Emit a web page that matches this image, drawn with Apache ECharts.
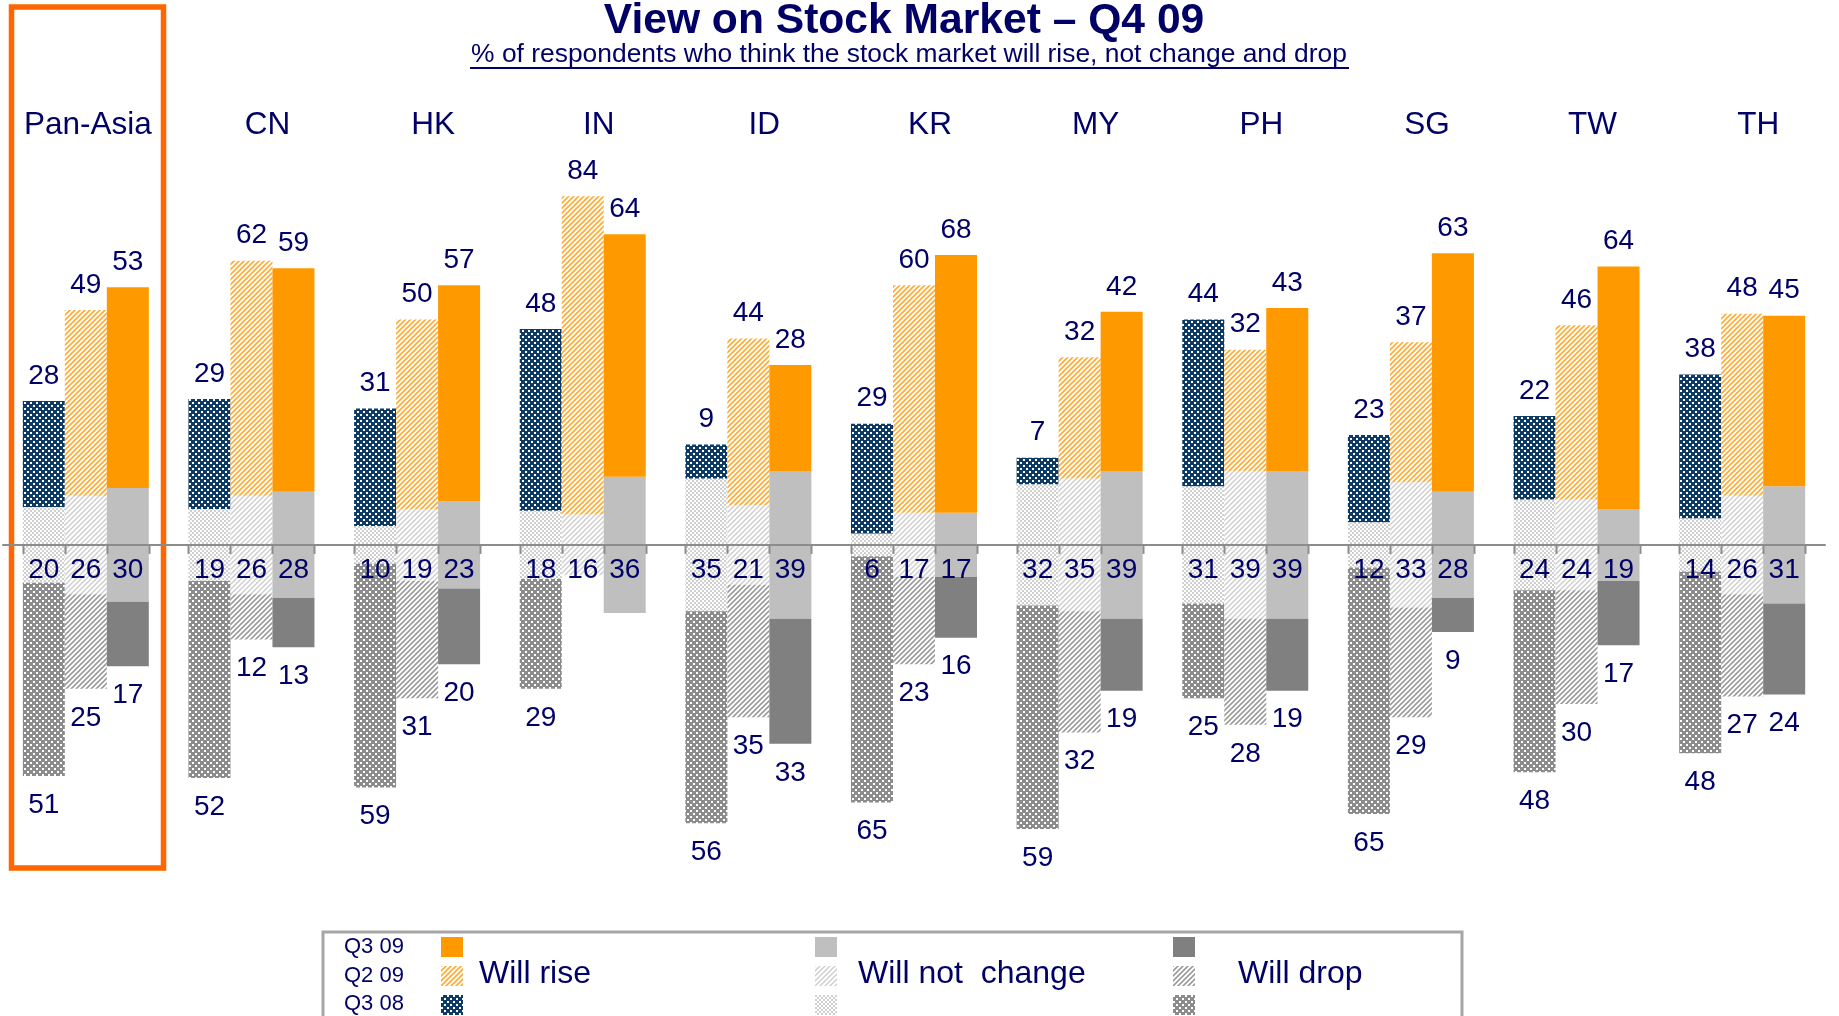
<!DOCTYPE html>
<html>
<head>
<meta charset="utf-8">
<title>View on Stock Market – Q4 09</title>
<script src="https://cdn.jsdelivr.net/npm/echarts@6/dist/echarts.min.js"></script>
<style>
    html, body { margin: 0; padding: 0; background: #fff; }
    #chart { width: 1839px; height: 1016px; }
</style>
</head>
<body>
<div id="chart"></div>
<script>
// markets and survey waves
const markets = ['Pan-Asia', 'CN', 'HK', 'IN', 'ID', 'KR', 'MY', 'PH', 'SG', 'TW', 'TH'];
const periods = ['Q3 08', 'Q2 09', 'Q3 09'];

// % who think the market will rise
const riseQ308 = [28, 29, 31, 48, 9, 29, 7, 44, 23, 22, 38];
const riseQ209 = [49, 62, 50, 84, 44, 60, 32, 32, 37, 46, 48];
const riseQ309 = [53, 59, 57, 64, 28, 68, 42, 43, 63, 64, 45];

// % who think it will not change
const flatQ308 = [20, 19, 10, 18, 35, 6, 32, 31, 12, 24, 14];
const flatQ209 = [26, 26, 19, 16, 21, 17, 35, 39, 33, 24, 26];
const flatQ309 = [30, 28, 23, 36, 39, 17, 39, 39, 28, 19, 31];

// % who think it will drop
const dropQ308 = [51, 52, 59, 29, 56, 65, 59, 25, 65, 48, 48];
const dropQ209 = [25, 12, 31, 0, 35, 23, 32, 28, 29, 30, 27];
const dropQ309 = [17, 13, 20, 0, 33, 16, 19, 19, 9, 17, 24];

const NAVY = '#000066';
const FONT = '"Liberation Sans", Arial, sans-serif';
const BAR_W = 42;

function makePattern(size, draw) {
    const c = document.createElement('canvas');
    c.width = size;
    c.height = size;
    draw(c.getContext('2d'), size);
    return { image: c, repeat: 'repeat' };
}

// dark squares with small white holes
function dotted(fg) {
    return makePattern(6, function (ctx, s) {
        ctx.fillStyle = fg;
        ctx.fillRect(0, 0, s, s);
        ctx.fillStyle = '#ffffff';
        ctx.fillRect(0, 0, 2, 2);
        ctx.fillRect(3, 3, 2, 2);
    });
}

function checker(fg) {
    return makePattern(4, function (ctx, s) {
        ctx.fillStyle = '#ffffff';
        ctx.fillRect(0, 0, s, s);
        ctx.fillStyle = fg;
        ctx.fillRect(0, 0, 2, 2);
        ctx.fillRect(2, 2, 2, 2);
    });
}

function hatch(fg, lw) {
    return makePattern(5, function (ctx, s) {
        ctx.fillStyle = '#ffffff';
        ctx.fillRect(0, 0, s, s);
        ctx.strokeStyle = fg;
        ctx.lineWidth = lw;
        ctx.beginPath();
        ctx.moveTo(-1, s + 1); ctx.lineTo(s + 1, -1);
        ctx.moveTo(-1, 1); ctx.lineTo(1, -1);
        ctx.moveTo(s - 1, s + 1); ctx.lineTo(s + 1, s - 1);
        ctx.stroke();
    });
}

const rise = [riseQ308, riseQ209, riseQ309];
const flat = [flatQ308, flatQ209, flatQ309];
const drop = [dropQ308, dropQ209, dropQ309];

const riseFill = [dotted('#0d3b66'), hatch('#ffab33', 1.6), '#ff9900'];
const flatFill = [checker('#cfcfcf'), hatch('#cdcdcd', 1.4), '#bfbfbf'];
const dropFill = [dotted('#8c8c8c'), hatch('#9c9c9c', 1.6), '#808080'];

const labelBase = { show: true, color: NAVY, fontSize: 28, fontFamily: FONT };

const series = [];
periods.forEach(function (p, i) {
    const common = { type: 'bar', stack: p, barWidth: BAR_W, barGap: '0%', emphasis: { disabled: true } };
    series.push(Object.assign({}, common, {
        name: 'Will not  change|' + p,
        data: flat[i].map(function (v) { return v / 2; }),
        itemStyle: { color: flatFill[i] }
    }));
    series.push(Object.assign({}, common, {
        name: 'Will rise|' + p,
        data: rise[i],
        itemStyle: { color: riseFill[i] },
        label: Object.assign({}, labelBase, { position: 'top', distance: 11 })
    }));
    series.push(Object.assign({}, common, {
        name: 'Will not  change|' + p,
        data: flat[i].map(function (v) { return -v / 2; }),
        itemStyle: { color: flatFill[i] },
        label: Object.assign({}, labelBase, {
            position: 'insideTop', distance: 11,
            formatter: function (prm) { return flat[i][prm.dataIndex]; }
        })
    }));
    series.push(Object.assign({}, common, {
        name: 'Will drop|' + p,
        data: drop[i].map(function (v) { return -v; }),
        itemStyle: { color: dropFill[i] },
        label: Object.assign({}, labelBase, {
            position: 'bottom', distance: 15,
            formatter: function (prm) { return drop[i][prm.dataIndex] || ''; }
        })
    }));
});

// little ticks under the zero line at every bar edge
series.push({
    type: 'custom',
    silent: true,
    z: 6,
    data: markets.map(function (m, i) { return [i, 0]; }),
    renderItem: function (params, api) {
        const c = api.coord([api.value(0), 0]);
        return {
            type: 'group',
            children: [-1.5, -0.5, 0.5, 1.5].map(function (k) {
                const x = Math.round(c[0] + k * BAR_W) + 0.5;
                return {
                    type: 'line',
                    shape: { x1: x, y1: c[1], x2: x, y2: c[1] + 9 },
                    style: { stroke: '#8c8c8c', lineWidth: 2 }
                };
            })
        };
    }
});

// legend: one column of swatches per answer, text written beside the middle row
const legendCols = [
    { key: 'Will rise', left: 441, textX: 479 },
    { key: 'Will not  change', left: 815, textX: 858 },
    { key: 'Will drop', left: 1173, textX: 1238 }
];
const legendRows = ['Q3 09', 'Q2 09', 'Q3 08'];

const graphics = [
    {
        type: 'text', x: 904, y: 21,
        style: { text: 'View on Stock Market – Q4 09', fill: NAVY, fontSize: 42.6, fontWeight: 'bold', fontFamily: FONT, align: 'center', verticalAlign: 'middle' }
    },
    {
        type: 'text', x: 909, y: 55,
        style: { text: '% of respondents who think the stock market will rise, not change and drop', fill: NAVY, fontSize: 26.4, fontFamily: FONT, align: 'center', verticalAlign: 'middle' }
    },
    {
        type: 'line', shape: { x1: 470, y1: 68, x2: 1349, y2: 68 },
        style: { stroke: NAVY, lineWidth: 2 }
    },
    {
        type: 'rect', shape: { x: 11.5, y: 7, width: 152, height: 861 },
        style: { fill: null, stroke: '#ff6600', lineWidth: 5.5 }
    },
    {
        type: 'rect', shape: { x: 323, y: 932, width: 1139, height: 120 },
        style: { fill: null, stroke: '#a6a6a6', lineWidth: 3 }
    }
];
legendRows.forEach(function (r, i) {
    graphics.push({ type: 'text', x: 344, y: 947 + i * 28.5, style: { text: r, fill: NAVY, fontSize: 22, fontFamily: FONT, verticalAlign: 'middle' } });
});
legendCols.forEach(function (c) {
    graphics.push({ type: 'text', x: c.textX, y: 974, style: { text: c.key, fill: NAVY, fontSize: 32, fontFamily: FONT, verticalAlign: 'middle' } });
});

const chart = echarts.init(document.getElementById('chart'));

chart.setOption({
    animation: false,
    backgroundColor: '#ffffff',
    grid: { left: 3, width: 1822, top: 166, height: 682 },
    xAxis: [{
        type: 'category',
        data: markets,
        z: 5,
        axisLine: { onZero: true, lineStyle: { color: '#8c8c8c', width: 2 } },
        axisTick: { show: false },
        axisLabel: { show: false },
        splitLine: { show: false }
    }, {
        type: 'category',
        data: markets,
        position: 'top',
        axisLine: { show: false, onZero: false },
        axisTick: { show: false },
        axisLabel: {
            interval: 0,
            margin: 25,
            fontSize: 31.5,
            color: NAVY,
            fontFamily: FONT,
            padding: [0, 0, 0, 32],
            formatter: function (v, i) { return i === 0 ? '{first|' + v + '}' : v; },
            rich: { first: { fontSize: 31.5, color: NAVY, fontFamily: FONT, padding: [0, 28, 0, 0] } }
        }
    }],
    yAxis: {
        type: 'value',
        min: -80,
        max: 100,
        show: false
    },
    legend: legendCols.map(function (c) {
        return {
            orient: 'vertical',
            left: c.left,
            top: 937,
            height: 140,
            padding: 0,
            itemGap: 9,
            itemWidth: 22,
            itemHeight: 20,
            icon: 'rect',
            selectedMode: false,
            data: legendRows.map(function (p) { return c.key + '|' + p; }),
            formatter: function () { return ''; },
            itemStyle: { borderWidth: 0 }
        };
    }),
    graphic: graphics,
    series: series
});

window.addEventListener('resize', function () {
    chart.resize();
});
</script>
</body>
</html>
